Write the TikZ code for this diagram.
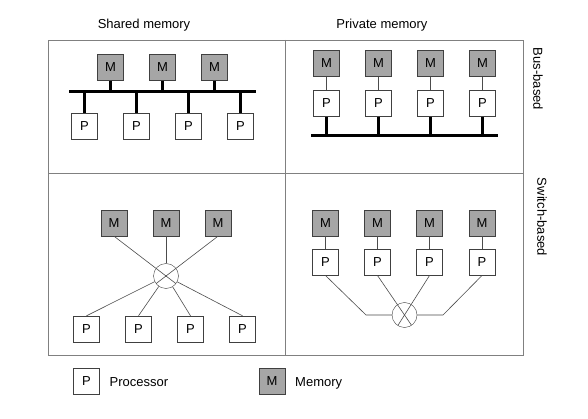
\documentclass[tikz,border=0pt]{standalone}
\usepackage{fontspec}
\setmainfont{Liberation Sans}
\usetikzlibrary{positioning}

\begin{document}
\begin{tikzpicture}[
          x=1pt, y=-1pt,
          every node/.style={font=\fontsize{13}{15}\selectfont},
          unit/.style={draw=black!75, minimum size=26pt, inner sep=0pt},
          proc/.style={unit, fill=white},
          mem/.style={unit, fill=black!35},
          switch/.style={draw=black!75, circle, minimum size=25pt, inner sep=0pt},
          bus/.style={line width=3pt},
          link/.style={draw=black!70, line width=0.6pt},
          frame/.style={draw=black!50, line width=0.8pt},
          legendtext/.style={text depth=0pt, text height=9pt}
        ]
          \useasboundingbox (0,0) rectangle (588,419);
          \fill[white] (0,0) rectangle (588,419);
          % outer frame and quadrants
          \draw[frame] (48,40) rectangle (523,355);
          \draw[frame] (285,40) -- (285,355);
          \draw[frame] (48,173) -- (523,173);
          % headings
          \node (shared) at (144,25) {Shared memory};
          \node (private) at (382,25) {Private memory};
          \node[rotate=-90] (busbased) at (538,79) {Bus-based};
          \node[rotate=-90] (swbased) at (542,217) {Switch-based};

          % shared memory, bus
          \coordinate (sbus-w) at (69,92);
          \coordinate (sbus-e) at (256,92);
          \draw[bus] (sbus-w) -- (sbus-e);
          \foreach \i/\x in {1/110.5, 2/162.5, 3/214.5} {
            \node[mem] (sbm\i) at (\x,67.5) {M};
            \draw[bus] (sbm\i.south) -- (sbm\i.south |- sbus-w);
          }
          \foreach \i/\x in {1/84.5, 2/136.5, 3/188.5, 4/240.5} {
            \node[proc] (sbp\i) at (\x,126) {P};
            \draw[bus] (sbp\i.north) -- (sbp\i.north |- sbus-w);
          }

          % private memory, bus
          \coordinate (pbus-w) at (311,136);
          \coordinate (pbus-e) at (498,136);
          \draw[bus] (pbus-w) -- (pbus-e);
          \foreach \i/\x in {1/326.5, 2/378.5, 3/430.5, 4/482.5} {
            \node[mem] (pbm\i) at (\x,63.5) {M};
            \node[proc] (pbp\i) at (\x,103.5) {P};
            \draw[link] (pbm\i) -- (pbp\i);
            \draw[bus] (pbp\i.south) -- (pbp\i.south |- pbus-w);
          }

          % shared memory, switch
          \node[switch] (ssw) at (166,276) {};
          \foreach \i/\x in {1/114, 2/166, 3/218}
            \node[mem] (ssm\i) at (\x,223) {M};
          \draw[link, shorten >=-12.5pt] (ssm1.south) -- (ssw.center);
          \draw[link, shorten >=-12.5pt] (ssm3.south) -- (ssw.center);
          \draw[link] (ssm2) -- (ssw);
          \foreach \i/\x in {1/86.5, 2/138.5, 3/190.5, 4/242.5} {
            \node[proc] (ssp\i) at (\x,329) {P};
            \draw[link] (ssw) -- (ssp\i.north);
          }

          % private memory, switch
          \node[switch] (psw) at (404.5,315) {};
          \coordinate (psw-w) at (366,315);
          \coordinate (psw-e) at (443,315);
          \foreach \i/\x in {1/325.5, 2/377.5, 3/429.5, 4/482} {
            \node[mem] (psm\i) at (\x,223) {M};
            \node[proc] (psp\i) at (\x,262.3) {P};
            \draw[link] (psm\i) -- (psp\i);
          }
          \draw[link] (psp1.south) -- (psw-w) -- (psw);
          \draw[link] (psp4.south) -- (psw-e) -- (psw);
          \draw[link, shorten >=-12.5pt] (psp2.south) -- (psw.center);
          \draw[link, shorten >=-12.5pt] (psp3.south) -- (psw.center);

          % legend
          \node[proc] (legproc) at (86.5,381.5) {P};
          \node[legendtext, right=6.5pt of legproc] (legproctext) {Processor};
          \node[mem] (legmem) at (272,381.5) {M};
          \node[legendtext, right=6.5pt of legmem] (legmemtext) {Memory};
        \end{tikzpicture}
\end{document}
